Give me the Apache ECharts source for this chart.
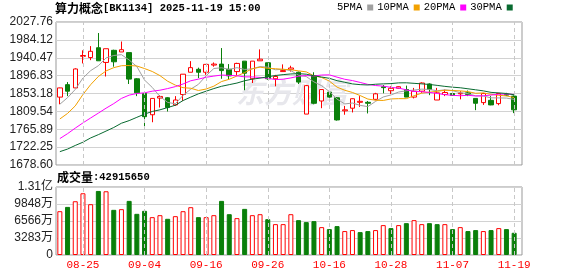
<!DOCTYPE html>
<html><head><meta charset="utf-8">
<script src="https://cdn.jsdelivr.net/npm/echarts@6/dist/echarts.min.js"></script>
<style>html,body{margin:0;padding:0;background:#fff}#c{width:578px;height:276px}</style>
</head><body><div id="c"></div>
<script>
// ---- data ----
const boardName = '算力概念';
const boardCode = 'BK1134';
const stamp = '2025-11-19 15:00';
const volumeTitle = '成交量';
const lastVolume = 42915650;

const dates = ['08-20','08-21','08-22','08-25','08-26','08-27','08-28','08-29',
  '09-01','09-02','09-03','09-04','09-05','09-08','09-09','09-10','09-11','09-12','09-15','09-16',
  '09-17','09-18','09-19','09-22','09-23','09-24','09-25','09-26','09-29','09-30',
  '10-09','10-10','10-13','10-14','10-15','10-16','10-17','10-20','10-21','10-22','10-23','10-24',
  '10-27','10-28','10-29','10-30','10-31',
  '11-03','11-04','11-05','11-06','11-07','11-10','11-11','11-12','11-13','11-14','11-17','11-18','11-19'];
const markedDates = ['08-25','09-04','09-16','09-26','10-16','10-28','11-07','11-19'];

const opens  = [1844.4,1874.8,1866.8,1944.0,1941.0,1964.9,1929.0,1958.6,1954.6,1953.0,
  1889.1,1853.2,1801.3,1842.0,1842.8,1825.3,1850.8,1905.1,1912.3,1905.1,
  1922.6,1925.0,1912.3,1906.7,1932.2,1889.1,1933.0,1928.2,1889.1,1906.7,
  1912.3,1905.1,1802.9,1897.1,1834.9,1856.4,1842.8,1810.9,1817.3,1831.7,
  1831.7,1838.9,1869.5,1860.0,1866.0,1862.8,1844.4,1858.8,1876.4,1837.3,
  1850.8,1853.2,1852.4,1854.8,1841.2,1830.9,1836.5,1828.5,1850.8,1846.8];
const closes = [1866.8,1858.8,1913.1,1946.0,1956.2,1933.0,1962.5,1930.6,1960.1,1888.3,
  1854.8,1796.6,1841.2,1846.0,1818.9,1837.3,1900.3,1916.3,1905.1,1924.3,
  1925.0,1909.1,1896.3,1926.6,1902.7,1932.2,1937.0,1889.1,1894.7,1909.1,
  1915.5,1881.1,1872.4,1829.3,1862.8,1844.4,1788.6,1813.3,1840.4,1834.1,
  1829.3,1852.4,1867.5,1865.9,1869.8,1844.4,1858.8,1878.8,1862.8,1854.8,
  1855.6,1848.4,1854.0,1850.8,1829.3,1853.2,1825.3,1853.2,1849.2,1813.3];
const lows   = [1826.9,1846.8,1866.8,1926.6,1934.6,1933.0,1894.7,1918.6,1954.6,1876.4,
  1846.8,1769.4,1783.0,1818.9,1809.3,1823.0,1834.9,1905.1,1890.7,1898.7,
  1918.6,1889.1,1886.7,1897.1,1861.2,1878.8,1933.0,1886.7,1870.8,1906.7,
  1906.7,1876.4,1802.9,1826.9,1817.3,1842.8,1787.0,1801.3,1806.9,1820.5,
  1804.5,1836.5,1853.7,1852.0,1865.5,1844.4,1841.2,1854.8,1849.2,1837.3,
  1846.8,1848.4,1838.9,1846.8,1812.5,1825.3,1824.5,1824.5,1846.8,1805.3];
const highs  = [1867.5,1881.1,1914.7,1958.6,1968.9,2000.8,1962.5,1960.1,1980.1,1953.0,
  1890.7,1854.8,1841.2,1849.2,1844.4,1846.8,1900.3,1932.2,1916.3,1924.3,
  1929.0,1964.1,1925.0,1928.2,1932.2,1932.2,1960.9,1928.2,1898.7,1924.3,
  1921.0,1906.7,1874.0,1905.1,1862.8,1858.8,1844.4,1822.9,1841.2,1846.8,
  1834.9,1854.8,1873.9,1870.8,1870.8,1872.4,1866.8,1880.4,1878.0,1866.8,
  1862.8,1862.8,1858.8,1860.4,1841.2,1854.8,1846.8,1854.8,1854.8,1848.4];
const volumes = [84600000,92900000,103800000,119200000,98100000,123700000,123100000,87200000,88500000,104500000,
  79500000,85300000,73100000,76900000,69900000,75000000,84600000,92300000,73100000,73100000,
  76900000,104500000,78800000,71200000,89100000,76900000,78800000,69200000,59600000,59600000,
  78800000,67300000,63500000,65400000,53800000,50000000,55800000,46200000,48100000,44200000,
  46200000,48100000,57700000,51900000,57700000,61500000,67300000,59600000,61500000,59600000,
  59600000,50000000,53800000,46200000,48100000,46200000,48100000,51900000,50000000,42915650];

const ma5  = [1827,1843,1863,1891,1909,1921,1940,1946,1948,1935,
  1919,1886,1868,1846,1831.5,1828,1848.7,1863.8,1875.6,1896.7,
  1914.2,1916.0,1912.0,1916.3,1911.9,1913.4,1919.0,1917.5,1911.1,1912.4,
  1909.1,1897.9,1894.6,1881.5,1872.2,1858.0,1839.5,1827.7,1829.9,1824.2,
  1821.1,1833.9,1844.7,1849.6,1856.8,1859.8,1861.5,1863.8,1863.0,1859.9,
  1862.2,1860.1,1855.2,1852.8,1847.5,1847.1,1842.5,1842.4,1842.0,1838.8];
const ma10 = [1791.0,1804.5,1822.9,1850.8,1874.8,1894.7,1908.3,1916.3,1921.0,1921.5,
  1920.3,1914.1,1906.9,1896.9,1883.2,1873.6,1867.4,1866.0,1860.5,1864.1,
  1871.1,1882.4,1887.9,1895.9,1904.3,1913.8,1917.5,1914.7,1913.7,1912.2,
  1911.2,1908.4,1906.0,1896.3,1892.3,1883.5,1868.7,1861.1,1855.7,1848.2,
  1839.6,1836.7,1836.2,1839.9,1840.6,1840.6,1847.6,1854.1,1856.4,1858.5,
  1861.0,1860.6,1859.6,1857.8,1853.7,1854.6,1851.2,1848.7,1847.3,1843.2];
const ma20 = [1743.1,1755.1,1768.6,1781.4,1793.4,1805.3,1817.3,1828.5,1841.2,1849.2,
  1853.2,1854.8,1858.8,1861.2,1865.2,1870.0,1876.4,1884.3,1888.3,1892.8,
  1895.7,1898.2,1897.4,1896.4,1893.8,1893.7,1892.4,1890.4,1887.1,1888.1,
  1891.2,1895.4,1897.0,1896.1,1898.3,1898.7,1893.1,1887.9,1884.7,1880.2,
  1875.4,1872.6,1871.2,1868.1,1866.4,1862.1,1858.1,1857.6,1856.0,1853.3,
  1850.3,1848.7,1847.7,1848.8,1847.1,1847.6,1849.4,1851.4,1851.8,1850.8];
const ma30 = [1711.2,1717.5,1726.3,1734.3,1744.7,1752.7,1761.4,1770.2,1780.6,1787.0,
  1795.0,1802.9,1809.3,1813.3,1818.9,1824.5,1836.0,1844.4,1852.4,1858.8,
  1865.2,1870.8,1874.8,1878.7,1884.3,1888.3,1890.7,1893.9,1897.1,1899.3,
  1900.9,1901.6,1900.3,1896.4,1893.3,1890.3,1884.5,1880.6,1876.6,1874.8,
  1874.0,1875.8,1876.7,1877.4,1879.1,1879.3,1878.0,1876.7,1875.3,1873.0,
  1870.6,1868.6,1867.2,1864.7,1862.2,1859.6,1855.9,1854.7,1853.2,1850.0];

const priceTicks = ['1678.60','1722.25','1765.89','1809.54','1853.18','1896.83','1940.47','1984.12','2027.76'];
const priceMin = 1678.60, priceMax = 2027.76;
const volTicks = ['0','3283万','6566万','9848万','1.31亿'];
const volMax = 131312000;

const maNames = ['5PMA','10PMA','20PMA','30PMA'];
const maData = [ma5, ma10, ma20, ma30];

// ---- styles ----
const RED = '#ff0000', GREEN = '#0a7f0a';
const MA_COLORS = ['#a0a0a0', '#f2a100', '#ff00ff', '#086a30'];
const FONT_NUM = "'Liberation Sans', 'Noto Sans CJK SC', sans-serif";
const FONT_MONO = "'Liberation Mono', monospace";
const FONT_CJK = "'Noto Sans CJK SC', sans-serif";

const chart = echarts.init(document.getElementById('c'), null, {renderer: 'canvas'});

const kData = dates.map((d, i) => [opens[i], closes[i], lows[i], highs[i]]);
const volData = volumes.map((v, i) => {
  const up = i === 0 ? true : closes[i] >= closes[i - 1];
  return {
    value: v,
    itemStyle: up ? {color: '#fff', borderColor: RED, borderWidth: 1}
                  : {color: GREEN, borderColor: GREEN, borderWidth: 1}
  };
});
const vlines = markedDates.map(d => ({xAxis: d}));
const vlineStyle = {symbol: 'none', silent: true, label: {show: false},
  lineStyle: {color: '#c8c8c8', type: [4, 3], width: 1}, data: vlines, animation: false};

const option = {
  animation: false,
  backgroundColor: '#fff',
  title: [
    {left: 55, top: 1, padding: 0,
     text: '{c|' + boardName + '}{a|[' + boardCode + '] ' + stamp + '}',
     textStyle: {rich: {
       c: {fontFamily: FONT_CJK, fontSize: 12, color: '#000', lineHeight: 14},
       a: {fontFamily: FONT_MONO, fontSize: 10.5, color: '#000', lineHeight: 14}}}},
    {left: 57, top: 170, padding: 0,
     text: '{c|' + volumeTitle + '}{a|:' + lastVolume + '}',
     textStyle: {rich: {
       c: {fontFamily: FONT_CJK, fontSize: 12, color: '#000', lineHeight: 14},
       a: {fontFamily: FONT_MONO, fontSize: 10.5, color: '#000', lineHeight: 14}}}}
  ],
  legend: {
    left: 337, top: 2, padding: 0, itemWidth: 6, itemHeight: 6, itemGap: 4,
    align: 'right', icon: 'rect', selectedMode: false,
    textStyle: {fontFamily: FONT_MONO, fontSize: 10.5, color: '#000'},
    data: maNames
  },
  graphic: [{
    type: 'text', left: 236, top: 78, z: 1, silent: true,
    style: {text: '东方财富', fill: '#e7e7ec', font: 'italic bold 28px ' + FONT_CJK}
  }],
  grid: [
    {left: 56, top: 22, width: 462, height: 143},
    {left: 56, top: 187, width: 462, height: 68},
    {left: 56, top: 22, width: 466, height: 143, show: true, borderColor: '#999', borderWidth: 1, backgroundColor: 'transparent'},
    {left: 56, top: 187, width: 466, height: 68, show: true, borderColor: '#999', borderWidth: 1, backgroundColor: 'transparent'}
  ],
  xAxis: [
    {gridIndex: 0, type: 'category', data: dates, boundaryGap: true, show: false},
    {gridIndex: 1, type: 'category', data: dates, boundaryGap: true,
     axisLine: {show: false}, axisTick: {show: false}, splitLine: {show: false},
     axisLabel: {interval: (i, v) => markedDates.includes(v), color: RED,
       fontFamily: FONT_MONO, fontSize: 11, margin: 5}},
    {gridIndex: 2, type: 'value', min: 0, max: 1, show: false},
    {gridIndex: 3, type: 'value', min: 0, max: 1, show: false}
  ],
  yAxis: [
    {gridIndex: 0, type: 'value', min: priceMin, max: priceMax, show: false},
    {gridIndex: 1, type: 'value', min: 0, max: volMax, show: false},
    {gridIndex: 2, type: 'value', min: 0, max: priceTicks.length - 1, interval: 1,
     axisLine: {show: false}, axisTick: {show: false},
     axisLabel: {formatter: v => priceTicks[v], color: '#222', fontFamily: FONT_NUM, fontSize: 12, margin: 3,
       showMinLabel: true, showMaxLabel: true},
     splitLine: {show: true, lineStyle: {color: '#d2d2d2', width: 1}}},
    {gridIndex: 3, type: 'value', min: 0, max: volTicks.length - 1, interval: 1,
     axisLine: {show: false}, axisTick: {show: false},
     axisLabel: {formatter: v => volTicks[v], color: '#222', fontFamily: FONT_NUM, fontSize: 12, margin: 3,
       showMinLabel: true, showMaxLabel: true},
     splitLine: {show: true, lineStyle: {color: '#d2d2d2', width: 1}}}
  ],
  series: [
    {type: 'line', name: 'vgrid-k', xAxisIndex: 0, yAxisIndex: 0, z: 1, data: [], markLine: vlineStyle},
    {type: 'line', name: 'vgrid-v', xAxisIndex: 1, yAxisIndex: 1, z: 1, data: [], markLine: vlineStyle},
    {type: 'candlestick', name: 'K', xAxisIndex: 0, yAxisIndex: 0, z: 3, barWidth: 5,
     data: kData,
     itemStyle: {color: '#fff', color0: GREEN, borderColor: RED, borderColor0: GREEN, borderWidth: 1}},
    {type: 'bar', name: 'VOL', xAxisIndex: 1, yAxisIndex: 1, z: 3, barWidth: 5, data: volData}
  ].concat(maNames.map((n, k) => ({
    type: 'line', name: n, xAxisIndex: 0, yAxisIndex: 0, z: 4,
    data: maData[k], symbol: 'none', showSymbol: false, smooth: false,
    itemStyle: {color: MA_COLORS[k]}, lineStyle: {color: MA_COLORS[k], width: 1}
  })))
};
chart.setOption(option);
</script>
</body></html>
